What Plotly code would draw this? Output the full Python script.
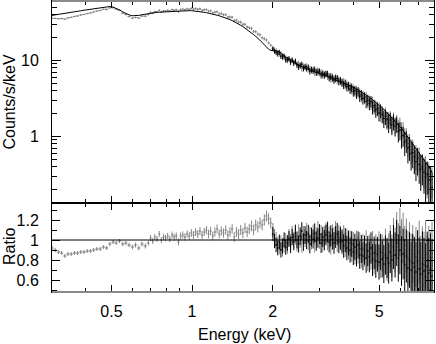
import numpy as np
import plotly.graph_objects as go

# ---------------- data ----------------
energy_kev = [
    0.300, 0.308, 0.317, 0.326, 0.335, 0.344, 0.354, 0.364, 0.374, 0.384,
    0.395, 0.406, 0.418, 0.429, 0.441, 0.454, 0.466, 0.480, 0.493, 0.507,
    0.521, 0.536, 0.551, 0.566, 0.582, 0.599, 0.615, 0.633, 0.650, 0.669,
    0.687,
    0.700, 0.713, 0.726, 0.740, 0.754, 0.768, 0.782, 0.796, 0.811, 0.826,
    0.842, 0.857, 0.873, 0.890, 0.906, 0.923, 0.940, 0.958, 0.976, 0.994,
    1.012, 1.031, 1.050, 1.070, 1.090, 1.110, 1.131, 1.152, 1.173, 1.195,
    1.217, 1.240, 1.263, 1.286, 1.310, 1.335, 1.360, 1.385, 1.411, 1.437,
    1.464, 1.491, 1.519, 1.547, 1.576, 1.605, 1.635, 1.666, 1.697, 1.728,
    1.760, 1.793, 1.827, 1.861, 1.895, 1.930, 1.966,
    2.003, 2.031, 2.059, 2.088, 2.117, 2.146, 2.176, 2.206, 2.237, 2.268,
    2.300, 2.332, 2.364, 2.397, 2.430, 2.464, 2.499, 2.533, 2.569, 2.604,
    2.641, 2.677, 2.715, 2.752, 2.791, 2.830, 2.869, 2.909, 2.950, 2.991,
    3.032, 3.075, 3.117, 3.161, 3.205, 3.249, 3.294, 3.340, 3.387, 3.434,
    3.482, 3.530, 3.579, 3.629, 3.680, 3.731, 3.783, 3.835, 3.889, 3.943,
    3.998, 4.053, 4.110, 4.167, 4.225, 4.284, 4.343, 4.403, 4.465, 4.527,
    4.590, 4.654, 4.718, 4.784, 4.851, 4.918, 4.987, 5.056, 5.126, 5.198,
    5.270, 5.343, 5.418, 5.493, 5.570, 5.647, 5.726, 5.805, 5.886, 5.968,
    6.051, 6.135, 6.220, 6.307, 6.394, 6.483, 6.573, 6.665, 6.757, 6.851,
    6.947, 7.043, 7.141, 7.240, 7.341, 7.443, 7.546, 7.651, 7.758, 7.866,
]

model_counts = [
    39.0, 39.5, 40.1, 40.7, 41.4, 42.0, 42.7, 43.4, 44.1, 44.8,
    45.6, 46.3, 47.2, 48.0, 48.9, 49.7, 50.4, 50.9, 51.0, 50.2,
    48.4, 45.9, 43.4, 41.2, 39.6, 38.6, 38.5, 39.0, 39.7, 40.5,
    41.2,
    41.9, 42.2, 42.5, 42.8, 43.0, 43.2, 43.4, 43.6, 43.8, 44.0,
    44.2, 44.3, 44.5, 44.6, 44.7, 44.8, 44.9, 45.0, 45.0, 45.0,
    44.8, 44.5, 44.1, 43.7, 43.3, 42.8, 42.3, 41.8, 41.2, 40.6,
    39.9, 39.2, 38.5, 37.8, 37.1, 36.2, 35.3, 34.3, 33.3, 32.3,
    31.2, 30.1, 28.9, 27.8, 26.6, 25.4, 24.2, 23.0, 21.8, 20.7,
    19.6, 18.5, 17.2, 16.0, 14.9, 14.0, 13.5,
    13.3, 13.3, 13.3, 13.2, 13.0, 12.6, 12.0, 11.4, 10.9, 10.6,
    10.3, 10.0, 9.7, 9.4, 9.1, 8.8, 8.55, 8.3, 8.15, 8.0,
    7.9, 7.8, 7.65, 7.5, 7.35, 7.2, 7.1, 6.98, 6.86, 6.74,
    6.62, 6.5, 6.38, 6.26, 6.14, 6.02, 5.9, 5.79, 5.68, 5.58,
    5.48, 5.38, 5.28, 5.18, 5.08, 4.98, 4.88, 4.77, 4.66, 4.55,
    4.44, 4.33, 4.22, 4.1, 3.98, 3.86, 3.74, 3.62, 3.5, 3.38,
    3.26, 3.14, 3.03, 2.92, 2.81, 2.7, 2.59, 2.48, 2.37, 2.26,
    2.15, 2.05, 1.95, 1.86, 1.77, 1.68, 1.59, 1.5, 1.42, 1.34,
    1.27, 1.2, 1.12, 1.05, 0.98, 0.91, 0.85, 0.79, 0.73, 0.68,
    0.64, 0.6, 0.56, 0.52, 0.49, 0.46, 0.43, 0.4, 0.37, 0.33,
]

ratio_gray = [
    0.92, 0.90, 0.88, 0.87, 0.84, 0.86, 0.86, 0.87, 0.87, 0.88,
    0.88, 0.89, 0.89, 0.90, 0.91, 0.91, 0.93, 0.92, 0.96, 0.98,
    0.97, 0.99, 0.96, 0.97, 0.95, 0.93, 0.95, 0.92, 0.96, 0.94,
    0.97,
    1.02, 0.99, 1.03, 1.01, 1.06, 1.00, 1.03, 1.02, 1.04, 1.01,
    1.05, 1.03, 1.04, 0.98, 1.04, 1.05, 1.03, 1.06, 1.04, 1.07,
    1.05, 1.08, 1.06, 1.09, 1.05, 1.08, 1.10, 1.06, 1.09, 1.04,
    1.08, 1.11, 1.06, 1.09, 1.07, 1.10, 1.05, 1.08, 1.11, 1.03,
    1.08, 1.06, 1.10, 1.07, 1.12, 1.08, 1.11, 1.14, 1.10, 1.15,
    1.13, 1.17, 1.15, 1.20, 1.24, 1.21, 1.17,
    1.10, 1.04, 1.01, 0.96, 0.93, 0.97, 0.91, 0.95, 0.99, 0.94,
    1.03, 0.98, 1.06, 1.00, 1.04, 0.97, 1.07, 1.01, 0.96, 1.05,
    1.02, 1.08, 0.99, 1.04, 1.00, 1.06, 0.97, 1.03, 1.09, 1.01,
    1.05, 0.98, 1.04, 1.07, 1.00, 1.03, 0.96, 1.05, 1.02, 1.08,
    0.99, 1.04, 1.01, 0.97, 1.03, 0.95, 0.99, 0.93, 0.97, 0.91,
    0.95, 0.89, 0.96, 0.90, 0.94, 0.86, 0.92, 0.88, 0.95, 0.84,
    0.90, 0.86, 0.93, 0.82, 0.89, 0.85, 0.91, 0.80, 0.87, 0.83,
    0.92, 0.79, 0.86, 0.94, 0.84, 1.00, 0.90, 1.05, 0.93, 1.08,
    0.96, 1.02, 0.88, 0.95, 0.82, 0.90, 0.78, 0.86, 0.74, 0.83,
    0.77, 0.88, 0.72, 0.81, 0.75, 0.86, 0.70, 0.79, 0.73, 0.82,
]

# second (black) data set, on the energies from 2 keV upward
BLACK_FROM = 88
ratio_black = [
    1.06, 0.99, 0.95, 0.92, 0.98, 0.90, 0.94, 1.00, 0.93, 0.97,
    1.01, 0.95, 1.03, 0.98, 1.07, 1.00, 0.96, 1.04, 1.09, 0.98,
    1.05, 1.00, 1.06, 0.96, 1.03, 1.01, 1.07, 0.99, 1.02, 1.06,
    0.97, 1.03, 1.00, 1.05, 1.08, 0.98, 1.04, 1.01, 0.97, 1.03,
    1.06, 0.98, 1.02, 0.99, 0.94, 1.00, 0.92, 0.97, 0.90, 0.96,
    0.88, 0.93, 0.87, 0.95, 0.85, 0.91, 0.84, 0.90, 0.82, 0.89,
    0.83, 0.92, 0.80, 0.87, 0.79, 0.86, 0.78, 0.88, 0.81, 0.76,
    0.85, 0.82, 0.77, 0.88, 0.80, 0.93, 0.85, 0.97, 0.82, 0.90,
    0.79, 0.86, 0.75, 0.84, 0.72, 0.80, 0.70, 0.77, 0.73, 0.68,
    0.79, 0.71, 0.66, 0.76, 0.69, 0.63, 0.74, 0.67, 0.71, 0.64,
]

ratio_err = [
    0.025, 0.022, 0.020, 0.020, 0.020, 0.020, 0.020, 0.020, 0.020, 0.020,
    0.020, 0.020, 0.020, 0.020, 0.020, 0.020, 0.020, 0.020, 0.020, 0.020,
    0.020, 0.020, 0.022, 0.022, 0.022, 0.022, 0.024, 0.024, 0.024, 0.025,
    0.025,
    0.030, 0.030, 0.030, 0.030, 0.030, 0.030, 0.032, 0.032, 0.032, 0.032,
    0.035, 0.035, 0.035, 0.035, 0.035, 0.036, 0.036, 0.036, 0.038, 0.038,
    0.040, 0.040, 0.040, 0.040, 0.041, 0.041, 0.042, 0.042, 0.043, 0.043,
    0.045, 0.045, 0.045, 0.046, 0.046, 0.047, 0.047, 0.048, 0.048, 0.049,
    0.050, 0.050, 0.050, 0.051, 0.051, 0.052, 0.052, 0.053, 0.053, 0.054,
    0.055, 0.055, 0.055, 0.056, 0.056, 0.057, 0.057,
    0.070, 0.071, 0.072, 0.073, 0.074, 0.075, 0.076, 0.077, 0.078, 0.079,
    0.080, 0.081, 0.082, 0.083, 0.084, 0.085, 0.086, 0.087, 0.088, 0.089,
    0.090, 0.091, 0.092, 0.093, 0.094, 0.095, 0.096, 0.097, 0.098, 0.099,
    0.100, 0.101, 0.102, 0.103, 0.104, 0.105, 0.106, 0.107, 0.108, 0.109,
    0.110, 0.112, 0.114, 0.116, 0.118, 0.120, 0.122, 0.124, 0.126, 0.128,
    0.130, 0.132, 0.134, 0.136, 0.138, 0.140, 0.142, 0.145, 0.148, 0.151,
    0.154, 0.157, 0.160, 0.164, 0.168, 0.172, 0.176, 0.180, 0.185, 0.190,
    0.195, 0.200, 0.205, 0.210, 0.215, 0.220, 0.225, 0.230, 0.236, 0.242,
    0.248, 0.254, 0.260, 0.266, 0.272, 0.278, 0.284, 0.290, 0.296, 0.302,
    0.308, 0.314, 0.320, 0.326, 0.332, 0.338, 0.344, 0.350, 0.356, 0.362,
]

x_tick_vals = [0.5, 1, 2, 5]
x_tick_text = ["0.5", "1", "2", "5"]
x_minor_vals = [0.4, 0.6, 0.7, 0.8, 0.9, 3, 4, 6, 7, 8]
cnt_tick_vals = [1, 10]
cnt_tick_text = ["1", "10"]
cnt_minor_vals = [0.2, 0.3, 0.4, 0.5, 0.6, 0.7, 0.8, 0.9,
                  2, 3, 4, 5, 6, 7, 8, 9, 20, 30, 40, 50]
rat_tick_vals = [0.6, 0.8, 1.0, 1.2]
rat_tick_text = ["0.6", "0.8", "1", "1.2"]
rat_minor_vals = [0.5, 0.7, 0.9, 1.1, 1.3]

# ---------------- derived ----------------
E = np.array(energy_kev)
M = np.array(model_counts)
R1 = np.array(ratio_gray)
R2 = np.array(ratio_black)
ERR = np.array(ratio_err)
assert len(E) == len(M) == len(R1) == len(ERR)
assert len(R2) == len(E) - BLACK_FROM

# channel bin edges (geometric mid-points between neighbouring channels)
mid = np.sqrt(E[1:] * E[:-1])
lo = np.concatenate([[E[0] ** 2 / mid[0]], mid])
hi = np.concatenate([mid, [E[-1] ** 2 / mid[-1]]])
ex_p = hi - E
ex_m = E - lo

E2 = E[BLACK_FROM:]
M2 = M[BLACK_FROM:]

GRAY = "#858585"
FONT = "Liberation Sans, Arial, Helvetica, sans-serif"

fig = go.Figure()


def data_trace(x, y, ey, exp, exm, color, xa, ya):
    return go.Scatter(
        x=x, y=y, mode="markers",
        marker=dict(size=1, color=color),
        error_y=dict(type="data", array=ey, color=color, thickness=1, width=0),
        error_x=dict(type="data", array=exp, arrayminus=exm, color=color,
                     thickness=1, width=0),
        xaxis=xa, yaxis=ya, showlegend=False, hoverinfo="skip",
    )


# top panel: counts
fig.add_trace(data_trace(E, M * R1, M * ERR, ex_p, ex_m, GRAY, "x2", "y2"))
fig.add_trace(data_trace(E2, M2 * R2, M2 * ERR[BLACK_FROM:],
                         ex_p[BLACK_FROM:], ex_m[BLACK_FROM:], "black", "x2", "y2"))
fig.add_trace(go.Scatter(x=E, y=M, mode="lines", line=dict(color="black", width=1),
                         xaxis="x2", yaxis="y2", showlegend=False, hoverinfo="skip"))

# bottom panel: ratio
fig.add_trace(data_trace(E, R1, ERR, ex_p, ex_m, GRAY, "x", "y"))
fig.add_trace(data_trace(E2, R2, ERR[BLACK_FROM:],
                         ex_p[BLACK_FROM:], ex_m[BLACK_FROM:], "black", "x", "y"))

SPLIT = 89 / 291

common_ax = dict(showline=True, linecolor="black", linewidth=1, mirror="allticks",
                 ticks="inside", tickcolor="black", tickwidth=1, showgrid=False,
                 zeroline=False, automargin=False)

fig.update_layout(
    template="none",
    width=436, height=344,
    margin=dict(l=52, r=2, t=1, b=52, autoexpand=False),
    paper_bgcolor="white", plot_bgcolor="white",
    font=dict(family=FONT, size=16, color="black"),
    xaxis=dict(**common_ax, type="log", domain=[0, 1], anchor="y",
               range=[np.log10(0.3), np.log10(8.0)],
               tickmode="array", tickvals=x_tick_vals, ticktext=x_tick_text,
               ticklen=7, ticklabelstandoff=5,
               minor=dict(tickmode="array", tickvals=x_minor_vals, ticks="inside",
                          ticklen=4, tickcolor="black", showgrid=False)),
    yaxis=dict(**common_ax, domain=[0, SPLIT], anchor="x",
               range=[0.48, 1.37],
               tickmode="array", tickvals=rat_tick_vals, ticktext=rat_tick_text,
               ticklen=8, ticklabelstandoff=9,
               minor=dict(tickmode="array", tickvals=rat_minor_vals, ticks="inside",
                          ticklen=5, tickcolor="black", showgrid=False)),
    xaxis2=dict(**common_ax, type="log", domain=[0, 1], anchor="y2", matches="x",
                range=[np.log10(0.3), np.log10(8.0)], showticklabels=False,
                tickmode="array", tickvals=x_tick_vals, ticklen=7,
                minor=dict(tickmode="array", tickvals=x_minor_vals, ticks="inside",
                           ticklen=4, tickcolor="black", showgrid=False)),
    yaxis2=dict(**common_ax, type="log", domain=[SPLIT, 1], anchor="x2",
                range=[np.log10(0.1325), np.log10(60.3)],
                tickmode="array", tickvals=cnt_tick_vals, ticktext=cnt_tick_text,
                ticklen=9, ticklabelstandoff=9,
                minor=dict(tickmode="array", tickvals=cnt_minor_vals, ticks="inside",
                           ticklen=5, tickcolor="black", showgrid=False)),
)

# ratio = 1 reference line
fig.add_shape(type="line", xref="x domain", x0=0, x1=1, yref="y", y0=1, y1=1,
              line=dict(color="black", width=1))
# grey outer top / bottom frame edges
for yy in (0, 1):
    fig.add_shape(type="line", xref="paper", x0=0, x1=1, yref="paper", y0=yy, y1=yy,
                  line=dict(color="#8a8a8a", width=2))

# axis titles
fig.add_annotation(text="Counts/s/keV", xref="paper", yref="paper",
                   x=(9 - 52) / 382, y=(292 - 102.5) / 291, textangle=-90,
                   showarrow=False, xanchor="center", yanchor="middle",
                   font=dict(size=16))
fig.add_annotation(text="Ratio", xref="paper", yref="paper",
                   x=(9 - 52) / 382, y=(292 - 247) / 291, textangle=-90,
                   showarrow=False, xanchor="center", yanchor="middle",
                   font=dict(size=16))
fig.add_annotation(text="Energy (keV)", xref="paper", yref="paper",
                   x=(244.5 - 52) / 382, y=(292 - 334) / 291,
                   showarrow=False, xanchor="center", yanchor="middle",
                   font=dict(size=16))

fig.write_html(
    "out.html",
    config={"displayModeBar": False, "staticPlot": True},
    post_script="document.body.style.margin='0';document.body.style.padding='0';",
)
